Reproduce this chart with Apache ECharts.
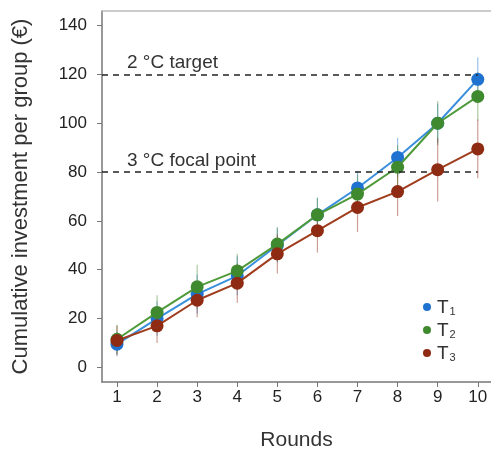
<!DOCTYPE html>
<html>
<head>
<meta charset="utf-8">
<script src="https://cdn.jsdelivr.net/npm/echarts@6/dist/echarts.min.js"></script>
<style>
  html, body { margin: 0; padding: 0; background: #fff; }
  #chart { width: 491px; height: 451px; }
</style>
</head>
<body>
<div id="chart"></div>
<script>
// data
var rounds = [1, 2, 3, 4, 5, 6, 7, 8, 9, 10];
var t1 = [9.5, 20, 30, 37.5, 50, 62.5, 73.5, 86, 100, 118];
var t2 = [11.5, 22.5, 33, 39.5, 50.5, 62.5, 71, 82, 100, 111];
var t3 = [11, 17, 27.5, 34.5, 46.5, 56, 65.5, 72, 81, 89.5];
// half-width of error bars
var t1Err = [5, 7, 8, 8, 7, 7, 7, 8, 8, 9];
var t2Err = [6, 7, 9, 7, 7, 7, 8, 9, 9, 10];
var t3Err = [6, 7, 7, 8, 8, 9, 10, 10, 13, 12];
var yTicks = [0, 20, 40, 60, 80, 100, 120, 140];
var targets = [
  {name: '2 °C target', value: 120},
  {name: '3 °C focal point', value: 80}
];

var xMin = 0.626, xMax = 10.33;
var colors = ['#1f72cf', '#3f8a2e', '#8f2b13'];
var lineColors = ['#3a8fdc', '#4f9a3a', '#a03d1e'];
var errColors = ['rgba(31,114,207,0.45)', 'rgba(63,138,46,0.45)', 'rgba(143,43,19,0.45)'];

function pairs(vals) {
  return rounds.map(function(r, i) { return [r, vals[i]]; });
}
function errData(vals, err) {
  return rounds.map(function(r, i) { return [r, vals[i] - err[i], vals[i] + err[i]]; });
}
function errSeries(vals, err, idx) {
  return {
    type: 'custom',
    silent: true,
    z: 1,
    data: errData(vals, err),
    renderItem: function(params, api) {
      var lo = api.coord([api.value(0), api.value(1)]);
      var hi = api.coord([api.value(0), api.value(2)]);
      return {
        type: 'line',
        shape: {x1: lo[0], y1: lo[1], x2: hi[0], y2: hi[1]},
        style: {stroke: errColors[idx], lineWidth: 1.2}
      };
    }
  };
}
function lineSeries(name, vals, idx) {
  return {
    name: name,
    type: 'line',
    z: 3 + idx,
    data: pairs(vals),
    symbol: 'circle',
    symbolSize: 13,
    itemStyle: {color: colors[idx]},
    lineStyle: {color: lineColors[idx], width: 2},
    emphasis: {disabled: true}
  };
}

var markLines = targets.map(function(t) {
  return [
    {coord: [xMin, t.value], name: t.name},
    {coord: [10, t.value]}
  ];
});

var myChart = echarts.init(document.getElementById('chart'));
var option = {
  animation: false,
  textStyle: {fontFamily: 'Liberation Sans, Arial, sans-serif'},
  grid: {left: 102, top: 11, right: 0, bottom: 69, outerBoundsMode: 'none', containLabel: false},
  legend: {
    orient: 'vertical',
    left: 418,
    top: 293,
    itemGap: 4,
    itemWidth: 8,
    itemHeight: 8,
    icon: 'circle',
    data: ['T1', 'T2', 'T3'],
    formatter: function(name) {
      return '{b|T}{s|' + name.slice(1) + '}';
    },
    textStyle: {
      padding: [0, 0, 0, 1],
      rich: {
        b: {fontSize: 19, color: '#333', lineHeight: 18, verticalAlign: 'bottom'},
        s: {fontSize: 11, color: '#333', padding: [9, 0, 0, 1], verticalAlign: 'bottom'}
      }
    }
  },
  xAxis: [{
    type: 'value',
    min: xMin,
    max: xMax,
    name: 'Rounds',
    nameLocation: 'middle',
    nameGap: 48,
    nameTextStyle: {fontSize: 21, color: '#333'},
    splitLine: {show: false},
    axisLine: {show: true, onZero: false, lineStyle: {color: '#777', width: 1.5}},
    axisTick: {show: true, customValues: rounds, length: 5, lineStyle: {color: '#777'}},
    axisLabel: {customValues: rounds, fontSize: 17, color: '#222', margin: 7}
  }, {
    type: 'value',
    position: 'top',
    min: xMin,
    max: xMax,
    splitLine: {show: false},
    axisLine: {show: true, onZero: false, lineStyle: {color: '#bbb', width: 1.5}},
    axisTick: {show: false},
    axisLabel: {show: false}
  }],
  yAxis: {
    type: 'value',
    min: -6,
    max: 146,
    name: 'Cumulative investment per group (€)',
    nameLocation: 'middle',
    nameGap: 70,
    nameTextStyle: {fontSize: 22, color: '#333'},
    splitLine: {show: false},
    axisLine: {show: true, onZero: false, lineStyle: {color: '#777', width: 1.5}},
    axisTick: {show: true, customValues: yTicks, length: 5, lineStyle: {color: '#777'}},
    axisLabel: {customValues: yTicks, fontSize: 17, color: '#222', margin: 15}
  },
  series: [
    errSeries(t1, t1Err, 0),
    errSeries(t2, t2Err, 1),
    errSeries(t3, t3Err, 2),
    {
      type: 'line',
      data: [],
      silent: true,
      markLine: {
        silent: true,
        symbol: 'none',
        lineStyle: {color: '#222', type: [6, 5], width: 1.6},
        label: {
          show: true,
          position: 'insideStartTop',
          formatter: '{b}',
          fontSize: 19,
          color: '#333',
          distance: 2,
          padding: [0, 0, 0, 23]
        },
        data: markLines
      }
    },
    lineSeries('T1', t1, 0),
    lineSeries('T2', t2, 1),
    lineSeries('T3', t3, 2)
  ]
};
myChart.setOption(option);
</script>
</body>
</html>
